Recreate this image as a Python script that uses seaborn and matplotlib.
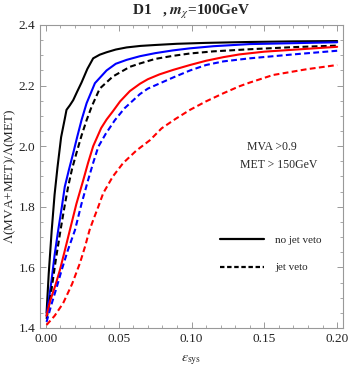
import numpy as np
import pandas as pd
import matplotlib
matplotlib.use("Agg")
import matplotlib.pyplot as plt
from matplotlib.lines import Line2D
from matplotlib.ticker import MultipleLocator
import seaborn as sns

# curves (eps_sys, ratio)
bs_x = [0.0005, 0.002, 0.004, 0.006, 0.008, 0.0105, 0.013, 0.0142, 0.0165, 0.0188, 0.0215, 0.0245,
        0.0285, 0.0325, 0.037, 0.0417, 0.048, 0.0555, 0.065, 0.075, 0.09, 0.11, 0.14, 0.17, 0.2]
bs_y = [1.45, 1.58, 1.72, 1.84, 1.93, 2.03, 2.09, 2.12, 2.135, 2.152, 2.18, 2.21,
        2.255, 2.29, 2.302, 2.31, 2.319, 2.326, 2.331, 2.334, 2.338, 2.341, 2.344, 2.346, 2.347]

blue_x = [0.0005, 0.002, 0.004, 0.006, 0.0085, 0.011, 0.013, 0.016, 0.0188, 0.0215, 0.0245, 0.028,
          0.0337, 0.0417, 0.048, 0.0555, 0.0646, 0.075, 0.087, 0.099, 0.115, 0.14, 0.17, 0.2]
blue_y = [1.44, 1.49, 1.56, 1.64, 1.723, 1.80, 1.866, 1.925, 1.977, 2.03, 2.086, 2.142,
          2.208, 2.25, 2.272, 2.285, 2.297, 2.307, 2.316, 2.323, 2.33, 2.337, 2.34, 2.343]

bd_x = [0.0005, 0.002, 0.004, 0.007, 0.0101, 0.0128, 0.0153, 0.018, 0.021, 0.0245, 0.028, 0.0314,
        0.037, 0.046, 0.0577, 0.0646, 0.075, 0.087, 0.099, 0.115, 0.14, 0.17, 0.2]
bd_y = [1.43, 1.47, 1.53, 1.63, 1.723, 1.80, 1.866, 1.925, 1.977, 2.035, 2.086, 2.13,
        2.19, 2.23, 2.262, 2.273, 2.288, 2.298, 2.306, 2.313, 2.32, 2.327, 2.332]

red_x = [0.0005, 0.003, 0.0065, 0.0096, 0.013, 0.0165, 0.021, 0.0257, 0.029, 0.0325, 0.038, 0.0417,
         0.046, 0.051, 0.0577, 0.0646, 0.070, 0.078, 0.0875, 0.099, 0.11, 0.122, 0.133, 0.15, 0.175, 0.2]
red_y = [1.44, 1.49, 1.54, 1.59, 1.655, 1.723, 1.81, 1.888, 1.945, 2.0, 2.06, 2.088,
         2.115, 2.148, 2.182, 2.206, 2.221, 2.237, 2.252, 2.268, 2.282, 2.294, 2.303, 2.312, 2.32, 2.328]

bluedash_x = [0.0005, 0.004, 0.0075, 0.0108, 0.015, 0.020, 0.0245, 0.029, 0.0325, 0.036, 0.041,
              0.0474, 0.054, 0.0646, 0.070, 0.0875, 0.099, 0.11, 0.122, 0.14, 0.17, 0.2]
bluedash_y = [1.42, 1.48, 1.535, 1.59, 1.655, 1.723, 1.81, 1.888, 1.945, 1.998, 2.04,
              2.086, 2.125, 2.172, 2.19, 2.227, 2.25, 2.268, 2.28, 2.29, 2.303, 2.315]

reddash_x = [0.0005, 0.006, 0.0119, 0.018, 0.0234, 0.027, 0.030, 0.0325, 0.036, 0.0394, 0.046, 0.053,
             0.062, 0.0715, 0.0795, 0.089, 0.099, 0.11, 0.122, 0.133, 0.140, 0.156, 0.179, 0.2]
reddash_y = [1.41, 1.44, 1.482, 1.545, 1.614, 1.67, 1.723, 1.756, 1.80, 1.845, 1.90, 1.944,
             1.985, 2.02, 2.059, 2.09, 2.12, 2.148, 2.175, 2.198, 2.21, 2.235, 2.254, 2.268]

curves = [
    (bs_x, bs_y, "black", "-"),
    (blue_x, blue_y, "blue", "-"),
    (bd_x, bd_y, "black", "--"),
    (red_x, red_y, "red", "-"),
    (bluedash_x, bluedash_y, "blue", "--"),
    (reddash_x, reddash_y, "red", "--"),
]

sns.set_style("ticks")
plt.rcParams["font.family"] = ["Liberation Serif", "DejaVu Serif"]
plt.rcParams["mathtext.fontset"] = "stix"

fig = plt.figure(figsize=(3.49, 3.70), dpi=100)
ax = fig.add_axes([40 / 349, 1 - 328 / 370, 303 / 349, 303 / 370])

for xs, ys, col, ls in curves:
    df = pd.DataFrame({"eps": xs, "ratio": ys})
    sns.lineplot(data=df, x="eps", y="ratio", color=col, lw=1.5,
                 estimator=None, sort=True, ax=ax)
    if ls == "--":
        ax.lines[-1].set_dashes((2.8, 1.6))

ax.set_xlim(-0.004, 0.204)
ax.set_ylim(1.4, 2.4)
ax.xaxis.set_major_locator(MultipleLocator(0.05))
ax.xaxis.set_minor_locator(MultipleLocator(0.01))
ax.yaxis.set_major_locator(MultipleLocator(0.2))
ax.yaxis.set_minor_locator(MultipleLocator(0.05))
ax.xaxis.set_major_formatter(plt.FuncFormatter(lambda v, p: f"{v:.2f}"))
ax.yaxis.set_major_formatter(plt.FuncFormatter(lambda v, p: f"{v:.1f}"))
ax.tick_params(which="both", direction="in", top=True, right=True, color="#999999",
               labelsize=9.5, labelcolor="#222222")
ax.tick_params(which="major", length=4, width=0.7)
ax.tick_params(which="minor", length=2.2, width=0.6)
for s in ax.spines.values():
    s.set_color("#999999")
    s.set_linewidth(0.8)

ax.set_xlabel(r"$\varepsilon_{\rm sys}$", fontsize=10, labelpad=6)
ax.set_ylabel(r"$\Lambda$(MVA+MET)/$\Lambda$(MET)", fontsize=9.5)
ax.yaxis.set_label_coords(-0.074, 0.5)
ax.set_title(r"D1   , $\mathbfit{m}_{\chi}$=100GeV", fontsize=11, fontweight="bold", pad=7)

ax.text(0.155, 1.997, "MVA >0.9", fontsize=8.5, ha="center", va="center")
ax.text(0.160, 1.937, "MET > 150GeV", fontsize=8.5, ha="center", va="center")

handles = [Line2D([], [], color="black", lw=1.6),
           Line2D([], [], color="black", lw=1.6, dashes=(2.0, 1.2))]
ax.legend(handles, ["no jet veto", "jet veto"], loc="center left",
          bbox_to_anchor=(0.56, 0.245), frameon=False, fontsize=8,
          handlelength=4.0, handletextpad=1.0, labelspacing=1.6)

fig.savefig("out.png", dpi=100)
